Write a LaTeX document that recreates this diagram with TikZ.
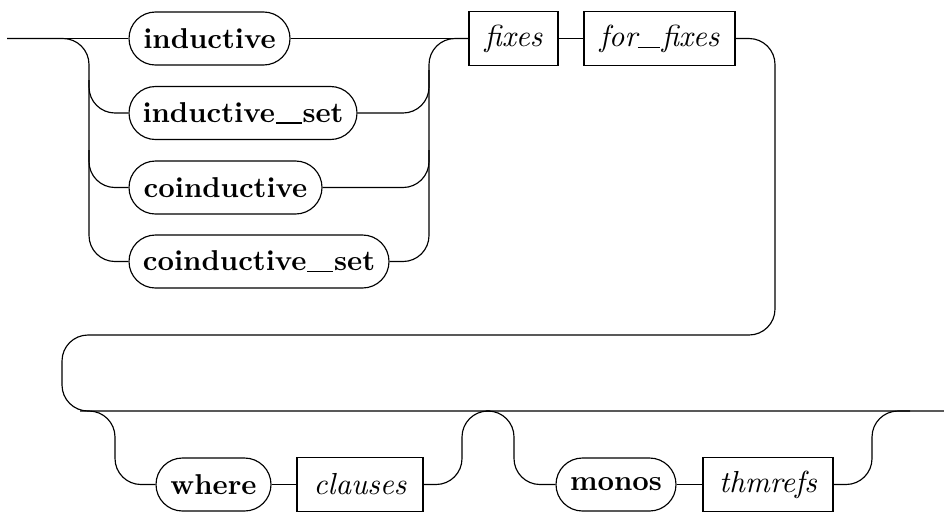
\documentclass[tikz,border=0pt]{standalone}
\usetikzlibrary{shapes.misc}
\newcommand\pxl{0.3484pt}
\newcommand\uscb{\kern0.3pt\rule[-0.6pt]{9pt}{0.6pt}\kern0.3pt}
\newcommand\usci{\kern0.2pt\rule[-0.6pt]{7.8pt}{0.45pt}\kern0.5pt}
\begin{document}
\begin{tikzpicture}[x=0.3484pt,y=-0.3484pt,
  line width=0.4pt,
  kw/.style={draw, rounded rectangle, minimum height=18.47pt, inner xsep=0pt, inner ysep=0pt, font=\bfseries},
  nt/.style={draw, rectangle, minimum height=18.8pt, inner xsep=0pt, inner ysep=0pt, font=\fontsize{10.6}{12}\selectfont\itshape},
  rail/.style={rounded corners=9.06pt}]
\useasboundingbox (0,0) rectangle (944,511);
% top row
\node[kw, minimum width=161*\pxl] (ind) at (209.5,38.5) {inductive};
\node[kw, minimum width=228*\pxl] (indset) at (243,113) {inductive\uscb set};
\node[kw, minimum width=193*\pxl] (coind) at (225.5,187.5) {coinductive};
\node[kw, minimum width=260*\pxl] (coindset) at (259,261.5) {coinductive\uscb set};
\node[nt, minimum width=89*\pxl] (fixes) at (513.5,38.5) {fixes};
\node[nt, minimum width=151*\pxl] (forfixes) at (659.5,38.5) {for\usci fixes};
% bottom row
\node[kw, minimum width=115*\pxl] (where) at (213.5,484.5) {where};
\node[nt, minimum width=126*\pxl] (clauses) at (360,484.5) {clauses};
\node[kw, minimum width=120*\pxl] (monos) at (616,484.5) {monos};
\node[nt, minimum width=130*\pxl] (thmrefs) at (768,484.5) {thmrefs};
\coordinate (start) at (7,38.5);
\coordinate (fin) at (944,411);
% connectors top
\draw (start) -- (ind.west);
\draw (ind.east) -- (fixes.west);
\draw[rail] (start) -| (89,261.5) -- (coindset.west);
\draw[rail] (89,80) |- (indset.west);
\draw[rail] (89,150) |- (coind.west);
\draw[rail] (coindset.east) -| (429,38.5) -- (fixes.west);
\draw[rail] (indset.east) -| (429,70);
\draw[rail] (coind.east) -| (429,150);
\draw (fixes.east) -- (forfixes.west);
\draw[rail] (forfixes.east) -| (775,335) -| (62,411) -- (fin);
% connectors bottom
\draw[rail] (80,411) -| (115,484.5) -- (where.west);
\draw (where.east) -- (clauses.west);
\draw[rail] (clauses.east) -| (462,411) -- (490,411);
\draw[rail] (486,411) -| (514,484.5) -- (monos.west);
\draw (monos.east) -- (thmrefs.west);
\draw[rail] (thmrefs.east) -| (872,411) -- (910,411);
\end{tikzpicture}
\end{document}
